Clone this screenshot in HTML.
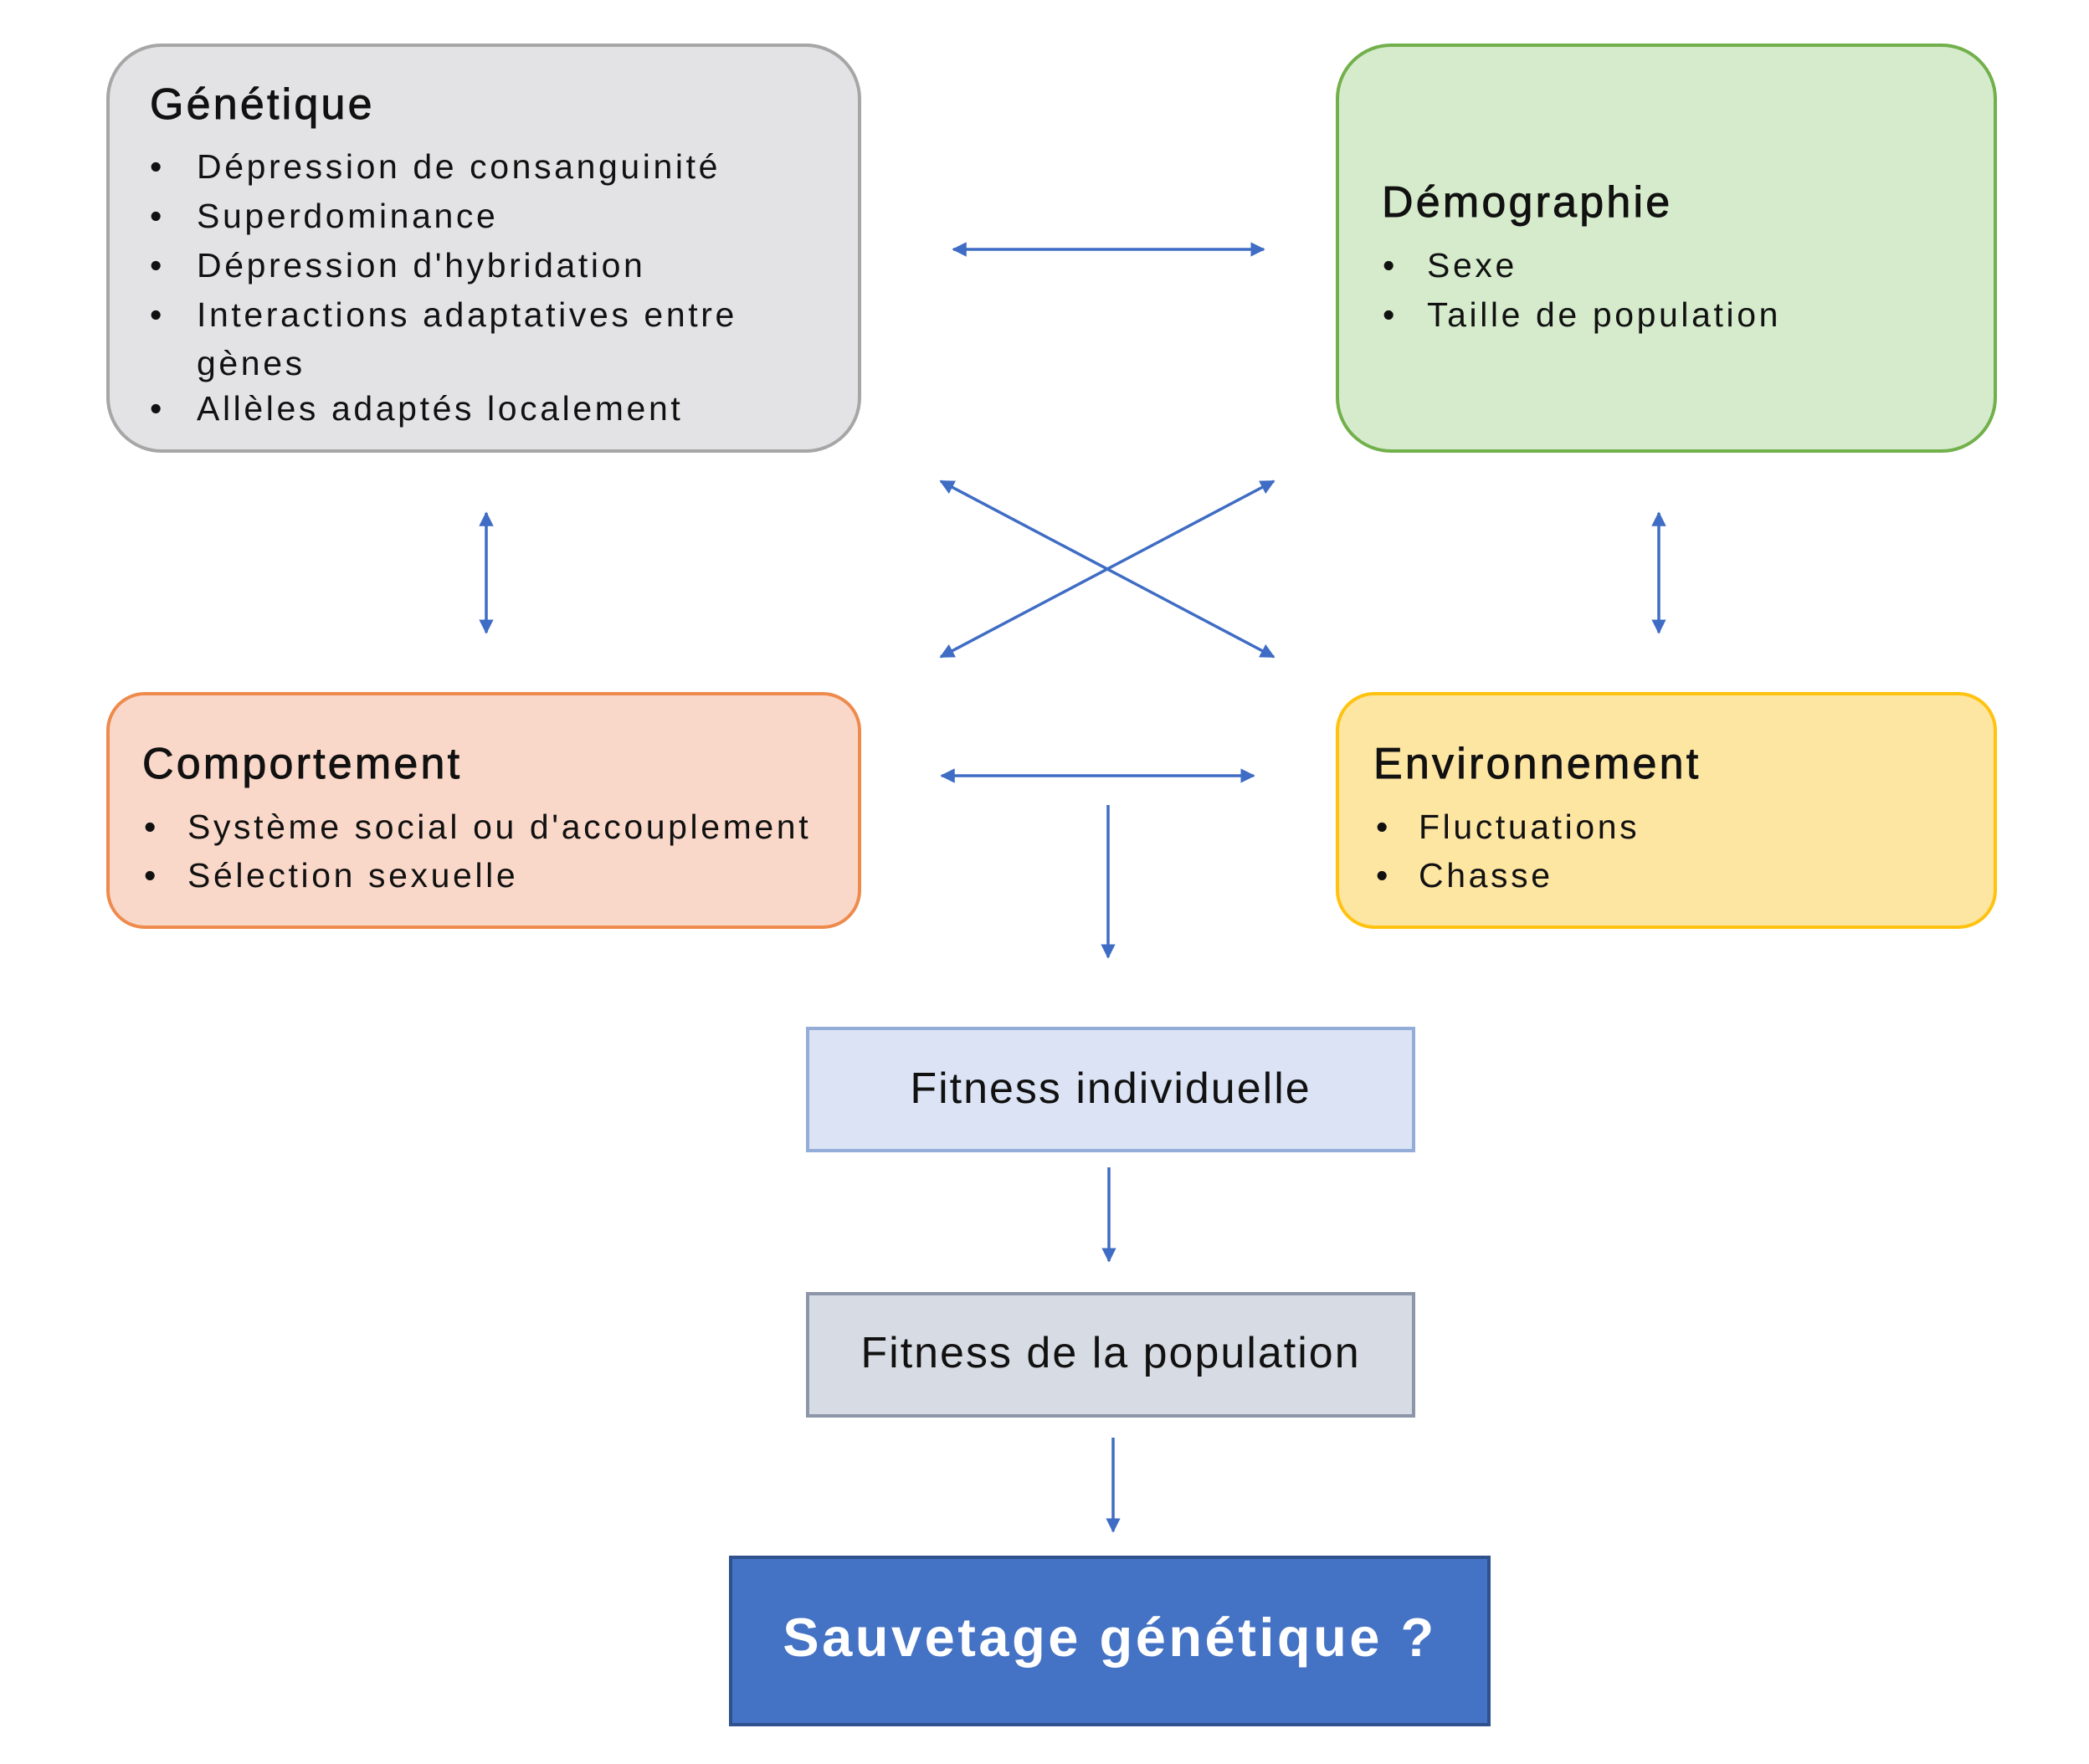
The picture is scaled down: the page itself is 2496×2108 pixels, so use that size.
<!DOCTYPE html>
<html><head><meta charset="utf-8"><style>
html,body{margin:0;padding:0;background:#fff}
svg{display:block}
text{font-family:"Liberation Sans",Arial,sans-serif;fill:#111}
.t{font-size:52px;letter-spacing:3.2px;stroke:#111;stroke-width:0.9px}
.b{font-size:41px;letter-spacing:3.6px}
</style></head><body>
<svg width="2496" height="2108" viewBox="0 0 2496 2108" xmlns="http://www.w3.org/2000/svg">
<defs>
<marker id="ah" viewBox="0 0 10 10" refX="9" refY="5" markerWidth="5" markerHeight="5" orient="auto-start-reverse" markerUnits="strokeWidth">
<path d="M0,0 L10,5 L0,10 z" fill="#3f6cc4"/></marker>
</defs>
<rect x="129" y="54" width="898" height="485" rx="64" fill="#e3e3e5" stroke="#a6a6a6" stroke-width="4"/>
<rect x="1598" y="54" width="786" height="485" rx="64" fill="#d5ebcb" stroke="#72b04c" stroke-width="4"/>
<rect x="129" y="829" width="898" height="279" rx="44" fill="#fad8c9" stroke="#ee8a4c" stroke-width="4"/>
<rect x="1598" y="829" width="786" height="279" rx="44" fill="#fde5a2" stroke="#ffc20e" stroke-width="4"/>
<rect x="965" y="1229" width="724" height="146" fill="#dbe3f4" stroke="#93acd8" stroke-width="4"/>
<rect x="965" y="1546" width="724" height="146" fill="#d7dbe3" stroke="#8c96a8" stroke-width="4"/>
<rect x="873" y="1861" width="906" height="200" fill="#4472c4" stroke="#2f528f" stroke-width="4"/>

<text class="t" x="179" y="142">Génétique</text>
<text class="b" x="179" y="213">•</text><text class="b" x="235" y="213">Dépression de consanguinité</text>
<text class="b" x="179" y="272">•</text><text class="b" x="235" y="272">Superdominance</text>
<text class="b" x="179" y="331">•</text><text class="b" x="235" y="331">Dépression d'hybridation</text>
<text class="b" x="179" y="390">•</text><text class="b" x="235" y="390">Interactions adaptatives entre</text>
<text class="b" x="235" y="448">gènes</text>
<text class="b" x="179" y="502">•</text><text class="b" x="235" y="502">Allèles adaptés localement</text>

<text class="t" x="1651" y="259">Démographie</text>
<text class="b" x="1652" y="331">•</text><text class="b" x="1705" y="331">Sexe</text>
<text class="b" x="1652" y="390">•</text><text class="b" x="1705" y="390">Taille de population</text>

<text class="t" x="170" y="930">Comportement</text>
<text class="b" x="172" y="1002">•</text><text class="b" x="224" y="1002">Système social ou d'accouplement</text>
<text class="b" x="172" y="1060">•</text><text class="b" x="224" y="1060">Sélection sexuelle</text>

<text class="t" x="1641" y="930">Environnement</text>
<text class="b" x="1644" y="1002">•</text><text class="b" x="1695" y="1002">Fluctuations</text>
<text class="b" x="1644" y="1060">•</text><text class="b" x="1695" y="1060">Chasse</text>

<text x="1327" y="1318" text-anchor="middle" style="font-size:52px;letter-spacing:2px">Fitness individuelle</text>
<text x="1327" y="1634" text-anchor="middle" style="font-size:52px;letter-spacing:2px">Fitness de la population</text>
<text x="1326" y="1979" text-anchor="middle" style="font-size:65px;font-weight:bold;fill:#fff;letter-spacing:3.5px">Sauvetage génétique ?</text>

<g stroke="#3f6cc4" stroke-width="3.5" fill="none">
<line x1="1139" y1="298" x2="1510" y2="298" marker-start="url(#ah)" marker-end="url(#ah)"/>
<line x1="581" y1="613" x2="581" y2="756" marker-start="url(#ah)" marker-end="url(#ah)"/>
<line x1="1982" y1="613" x2="1982" y2="756" marker-start="url(#ah)" marker-end="url(#ah)"/>
<line x1="1124" y1="575" x2="1522" y2="785" marker-start="url(#ah)" marker-end="url(#ah)"/>
<line x1="1522" y1="575" x2="1124" y2="785" marker-start="url(#ah)" marker-end="url(#ah)"/>
<line x1="1125" y1="927" x2="1498" y2="927" marker-start="url(#ah)" marker-end="url(#ah)"/>
<line x1="1324" y1="962" x2="1324" y2="1144" marker-end="url(#ah)"/>
<line x1="1325" y1="1395" x2="1325" y2="1507" marker-end="url(#ah)"/>
<line x1="1330" y1="1718" x2="1330" y2="1830" marker-end="url(#ah)"/>
</g>
</svg>
</body></html>
